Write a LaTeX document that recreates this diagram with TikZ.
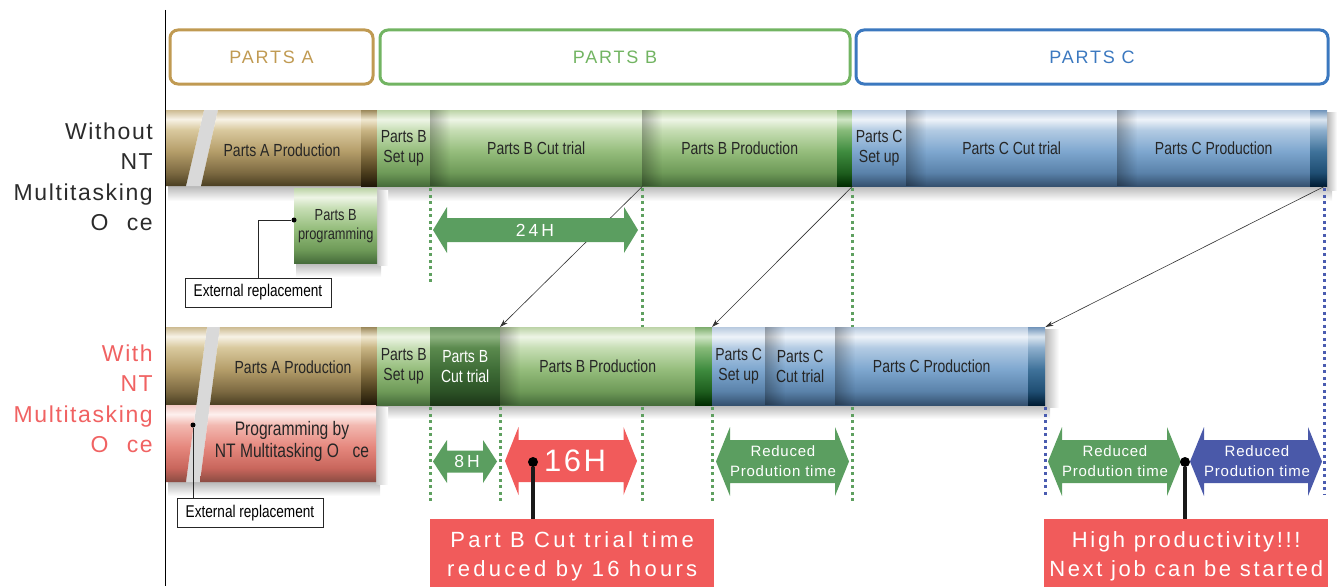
\documentclass[tikz,border=0pt]{standalone}
\usepackage{fontspec}
\setmainfont{Liberation Sans}
\newfontfamily\narrow[FakeStretch=0.8]{Liberation Sans}
\newfontfamily\hdrwide[LetterSpace=10]{Liberation Sans}
\newfontfamily\lblfont[LetterSpace=7]{Liberation Sans}
\newfontfamily\arrfont[LetterSpace=5]{Liberation Sans}
\newfontfamily\hfont[LetterSpace=17]{Liberation Sans}
\newfontfamily\bigfont[LetterSpace=8]{Liberation Sans}
\newfontfamily\callfont[LetterSpace=12]{Liberation Sans}
\newfontfamily\callfontb[LetterSpace=15]{Liberation Sans}
\usetikzlibrary{arrows.meta,fadings}

% bar colours: a=bottom ... f=top
\definecolor{golda}{HTML}{4A3F22}\definecolor{goldb}{HTML}{7D6A42}\definecolor{goldc}{HTML}{B59E6A}
\definecolor{goldd}{HTML}{D9C99E}\definecolor{golde}{HTML}{F7F2E6}\definecolor{goldf}{HTML}{CDBB92}
\definecolor{grna}{HTML}{456B3A}\definecolor{grnb}{HTML}{6E9A58}\definecolor{grnc}{HTML}{95BD7C}
\definecolor{grnd}{HTML}{C7DEB5}\definecolor{grne}{HTML}{EEF5E6}\definecolor{grnf}{HTML}{BDD4A8}
\definecolor{dgra}{HTML}{1C3517}\definecolor{dgrb}{HTML}{2C5226}\definecolor{dgrc}{HTML}{3F6D37}
\definecolor{dgrd}{HTML}{5B8A4E}\definecolor{dgre}{HTML}{8DB27F}\definecolor{dgrf}{HTML}{6D9562}
\definecolor{blua}{HTML}{34506E}\definecolor{blub}{HTML}{5A82AA}\definecolor{bluc}{HTML}{7EA7CF}
\definecolor{blud}{HTML}{B3CBE3}\definecolor{blue}{HTML}{EEF3F9}\definecolor{bluf}{HTML}{B9CBE0}
\definecolor{pnka}{HTML}{8A4B42}\definecolor{pnkb}{HTML}{C8665C}\definecolor{pnkc}{HTML}{E6887E}
\definecolor{pnkd}{HTML}{F2B8B0}\definecolor{pnke}{HTML}{FDF0EE}\definecolor{pnkf}{HTML}{F2C9C3}
\definecolor{gcapa}{HTML}{1F1708}\definecolor{gcapb}{HTML}{4A3C1C}\definecolor{gcapc}{HTML}{8B7545}
\definecolor{gcapd}{HTML}{C9B584}\definecolor{gcape}{HTML}{F0E8D0}\definecolor{gcapf}{HTML}{9D8A5C}
\definecolor{ecapa}{HTML}{002B00}\definecolor{ecapb}{HTML}{1E5E1E}\definecolor{ecapc}{HTML}{3F8C3F}
\definecolor{ecapd}{HTML}{88BB7A}\definecolor{ecape}{HTML}{D0E6C6}\definecolor{ecapf}{HTML}{7FAE6F}
\definecolor{bcapa}{HTML}{001C33}\definecolor{bcapb}{HTML}{1F4E73}\definecolor{bcapc}{HTML}{3F729A}
\definecolor{bcapd}{HTML}{8FB0CE}\definecolor{bcape}{HTML}{DBE6F0}\definecolor{bcapf}{HTML}{7396BB}

\definecolor{hgold}{HTML}{C09A52}
\definecolor{hgreen}{HTML}{72B462}
\definecolor{hblue}{HTML}{3B78BF}
\definecolor{arrgreen}{HTML}{5B9E60}
\definecolor{arrblue}{HTML}{4A59A9}
\definecolor{calred}{HTML}{F15B5B}
\definecolor{dotgreen}{HTML}{5FA060}
\definecolor{dotblue}{HTML}{4A5CB0}
\definecolor{bartxt}{HTML}{262626}
\definecolor{lblgray}{HTML}{2B2B2B}
\definecolor{lblred}{HTML}{F06262}

\newcommand\mkshade[1]{\pgfdeclareverticalshading{#1}{100bp}{color(0bp)=(#1a); color(25bp)=(#1a); color(34bp)=(#1b); color(48bp)=(#1c); color(62bp)=(#1d); color(69bp)=(#1e); color(75bp)=(#1f); color(100bp)=(#1f)}}
\mkshade{gold}\mkshade{grn}\mkshade{dgr}\mkshade{blu}\mkshade{pnk}\mkshade{gcap}\mkshade{ecap}\mkshade{bcap}

\tikzfading[name=edgefade, left color=transparent!0, right color=transparent!100]

% double arrow: colour, x-left, x-right, y-centre, shaft half height, head half height, head length
\newcommand\mydblarrow[7]{%
  \fill[#1] (#2,#4) -- ({#2+#7},{#4-#6}) -- ({#2+#7},{#4-#5}) -- ({#3-#7},{#4-#5}) -- ({#3-#7},{#4-#6})
    -- (#3,#4) -- ({#3-#7},{#4+#6}) -- ({#3-#7},{#4+#5}) -- ({#2+#7},{#4+#5}) -- ({#2+#7},{#4+#6}) -- cycle;}
% darker band at the left edge of a segment node
\newcommand\segedge[1]{%
  \fill[black, opacity=0.28, path fading=edgefade] (#1.north west) rectangle ([xshift=20pt]#1.south west);}

\begin{document}
\begin{tikzpicture}[x=1pt,y=-1pt,
  seg/.style={rectangle, inner sep=0pt, anchor=north west, minimum height=76pt, text=bartxt, align=center,
    font=\narrow\fontsize{17.5}{20}\selectfont},
  seg2/.style={seg, minimum height=78pt},
  bartext/.style={text=bartxt, align=center, inner sep=0pt, font=\narrow\fontsize{17.5}{20}\selectfont},
  hdr/.style={rectangle, rounded corners=8pt, line width=3pt, minimum height=54pt, inner sep=0pt,
    font=\hdrwide\fontsize{18}{20}\selectfont},
  ext/.style={draw=black!85, line width=1pt, fill=white, minimum width=146pt, minimum height=29pt, inner sep=0pt,
    font=\narrow\fontsize{17}{20}\selectfont},
  lbl/.style={align=right, anchor=east, inner sep=0pt, font=\lblfont\fontsize{23}{30.5}\selectfont},
  arrtxt/.style={text=white, align=center, inner sep=0pt, font=\arrfont\fontsize{15}{20}\selectfont},
  callout/.style={fill=calred, text=white, anchor=north west, minimum width=284pt, minimum height=75pt,
    inner sep=0pt, align=center, font=\callfont\fontsize{22}{29}\selectfont},
  dotg/.style={draw=dotgreen, line width=3pt, dash pattern=on 3pt off 3.5pt},
  dotb/.style={dotg, draw=dotblue},
  diag/.style={draw=black!80, line width=0.6pt, -{Stealth[length=8pt,width=5pt]}},
  pin/.style={circle, fill=black, inner sep=0pt, minimum size=10pt},
  smallpin/.style={circle, fill=black, inner sep=0pt, minimum size=5pt},
  pinline/.style={line width=3.5pt, draw=black!90},
  leader/.style={draw=black!85, line width=0.8pt}
]
\useasboundingbox (0,0) rectangle (1337,586);

% ---------- headers ----------
\node[hdr, draw=hgold, text=hgold, minimum width=203pt] (hA) at (271.5,57) {PARTS A};
\node[hdr, draw=hgreen, text=hgreen, minimum width=470pt] (hB) at (615,57) {PARTS B};
\node[hdr, draw=hblue, text=hblue, minimum width=472pt] (hC) at (1092,57) {PARTS C};

% ---------- left labels ----------
\node[lbl, text=lblgray] (lwo) at (153,177) {Without\\NT\\Multitasking\\O\hspace{0.8em}ce};
\node[lbl, text=lblred] (lwi) at (153,399) {With\\NT\\Multitasking\\O\hspace{0.8em}ce};

% ---------- shadows ----------
\shade[top color=black!28, bottom color=white] (168,186) rectangle (1332,201);
\shade[left color=black!28, right color=white] (1327,112) rectangle (1337,190);
\shade[top color=black!28, bottom color=white] (376,405) rectangle (1050,419);
\shade[left color=black!28, right color=white] (1045,329) rectangle (1059,407);
\shade[top color=black!28, bottom color=white] (168,482) rectangle (380,496);
\shade[left color=black!22, right color=white] (376,407) rectangle (388,484);
\shade[top color=black!28, bottom color=white] (296,263) rectangle (381,277);
\shade[left color=black!22, right color=white] (377,190) rectangle (388,265);

% ---------- row 1 (without) ----------
\fill[black!15] (204,110) -- (218,110) -- (201,186) -- (186,186) -- cycle;
\shade[shading=gold] (165,110) -- (204,110) -- (186,186) -- (165,186) -- cycle;
\shade[shading=gold] (218,110) -- (361,110) -- (361,186) -- (201,186) -- cycle;
\node[bartext] (a1txt) at (282,150) {Parts A Production};
\node[seg, shading=gcap, minimum width=16pt] (a1cap) at (361,110) {};
\node[seg, shading=grn, minimum width=53pt] (b1set) at (377,110) {Parts B\\Set up};
\node[seg, shading=grn, minimum width=212pt] (b1cut) at (430,110) {Parts B Cut trial};
\node[seg, shading=grn, minimum width=195pt] (b1prod) at (642,110) {Parts B Production};
\node[seg, shading=ecap, minimum width=15pt] (b1cap) at (837,110) {};
\node[seg, shading=blu, minimum width=54pt] (c1set) at (852,110) {Parts C\\Set up};
\node[seg, shading=blu, minimum width=211pt] (c1cut) at (906,110) {Parts C Cut trial};
\node[seg, shading=blu, minimum width=193pt] (c1prod) at (1117,110) {Parts C Production};
\node[seg, shading=bcap, minimum width=17pt] (c1cap) at (1310,110) {};
\segedge{b1cut}\segedge{b1prod}\segedge{c1cut}\segedge{c1prod}

\node[seg, shading=grn, minimum width=83pt, minimum height=75pt, font=\narrow\fontsize{16}{19}\selectfont] (bprog) at (294,188) {Parts B\\programming};
\node[smallpin] (d1) at (294,220) {};
\node[ext] (ext1) at (258,292.5) {External replacement};
\draw[leader] (d1) -| (ext1.north);

% ---------- row 2 (with) ----------
\fill[black!15] (207,327) -- (220,327) -- (200,482) -- (186,482) -- cycle;
\shade[shading=gold] (165,327) -- (207,327) -- (196.4,405) -- (165,405) -- cycle;
\shade[shading=gold] (220,327) -- (361,327) -- (361,405) -- (209.9,405) -- cycle;
\node[bartext] (a2txt) at (293,367) {Parts A Production};
\node[seg2, shading=gcap, minimum width=16pt] (a2cap) at (361,327) {};
\node[seg2, shading=grn, minimum width=53pt] (b2set) at (377,327) {Parts B\\Set up};
\node[seg2, shading=dgr, minimum width=70pt, text=white] (b2cut) at (430,327) {Parts B\\Cut trial};
\node[seg2, shading=grn, minimum width=195pt] (b2prod) at (500,327) {Parts B Production};
\node[seg2, shading=ecap, minimum width=17pt] (b2cap) at (695,327) {};
\node[seg2, shading=blu, minimum width=53pt] (c2set) at (712,327) {Parts C\\Set up};
\node[seg2, shading=blu, minimum width=70pt] (c2cut) at (765,327) {Parts C\\Cut trial};
\node[seg2, shading=blu, minimum width=193pt] (c2prod) at (835,327) {Parts C Production};
\node[seg2, shading=bcap, minimum width=17pt] (c2cap) at (1028,327) {};
\segedge{b2prod}\segedge{c2cut}\segedge{c2prod}

\shade[shading=pnk] (165,405) -- (196.4,405) -- (186,482) -- (165,482) -- cycle;
\shade[shading=pnk] (209.9,405) -- (376,405) -- (376,482) -- (200,482) -- cycle;
\node[bartext, font=\narrow\fontsize{19.5}{22}\selectfont] (prog) at (292,441) {Programming by\\NT Multitasking O\hspace{0.7em}ce};
\node[smallpin] (d2) at (193,425) {};
\node[ext] (ext2) at (250,513) {External replacement};
\draw[leader] (d2) -- (d2 |- ext2.north);

% ---------- dotted guides ----------
\draw[dotg] (b1set.south east) ++(0,2) -- ++(0,95);
\draw[dotg] (b1cut.south east) ++(0,2) -- (b1cut.south east |- b2prod.north);
\draw[dotg] (b1cap.south east) ++(0,2) -- (b1cap.south east |- c2prod.north);
\draw[dotg] (b2set.south east) ++(0,2) -- ++(0,95);
\draw[dotg] (b2cut.south east) ++(0,2) -- ++(0,95);
\draw[dotg] (b2prod.south -| b1cut.south east) ++(0,2) -- ++(0,95);
\draw[dotg] (b2cap.south east) ++(0,2) -- ++(0,95);
\draw[dotg] (c2prod.south -| b1cap.south east) ++(0,2) -- ++(0,95);
\draw[dotb] (c2cap.south east) ++(0,2) -- ++(0,89);
\draw[dotb] (c1cap.south east) ++(-3,2) -- ++(0,307);

% ---------- diagonal connectors ----------
\draw[diag] (b1cut.south east) -- (b2prod.north west);
\draw[diag] (b1cap.south east) -- (c2set.north west);
\draw[diag] ([xshift=-3pt]c1cap.south east) -- (c2cap.north east);

% ---------- double arrows ----------
\mydblarrow{arrgreen}{433}{638}{230}{12}{23}{14}
\node[text=white, inner sep=0pt, font=\hfont\fontsize{17.5}{20}\selectfont] (t24) at (535,230) {24H};
\mydblarrow{arrgreen}{433}{497}{461.5}{11}{21.5}{14}
\node[text=white, inner sep=0pt, font=\hfont\fontsize{17.5}{20}\selectfont] (t8) at (467,461.5) {8H};
\mydblarrow{calred}{505}{637}{461}{21}{34}{13.5}
\node[text=white, inner sep=0pt, font=\bigfont\fontsize{31}{34}\selectfont] (t16) at (575,461) {16H};
\mydblarrow{arrgreen}{716}{849}{461.5}{21.5}{34.5}{14}
\node[arrtxt] (tr1) at (783,461.5) {Reduced\\Prodution time};
\mydblarrow{arrgreen}{1048}{1181}{461.5}{21.5}{34.5}{14}
\node[arrtxt] (tr2) at (1115,461.5) {Reduced\\Prodution time};
\mydblarrow{arrblue}{1190}{1322}{461.5}{21.5}{34.5}{14}
\node[arrtxt] (tr3) at (1257,461.5) {Reduced\\Prodution time};

% ---------- callouts ----------
\node[callout, font=\callfontb\fontsize{22}{29}\selectfont] (red1) at (430,519) {Part B Cut trial time\\reduced by 16 hours};
\node[callout] (red2) at (1044,519) {High productivity!!!\\Next job can be started};
\node[pin] (d3) at (533,462) {};
\draw[pinline] (d3) -- (d3 |- red1.north);
\node[pin] (d4) at (1185,462) {};
\draw[pinline] (d4) -- (d4 |- red2.north);

% ---------- axis ----------
\draw[line width=1pt] (165,10) -- (165,586);
\end{tikzpicture}
\end{document}
